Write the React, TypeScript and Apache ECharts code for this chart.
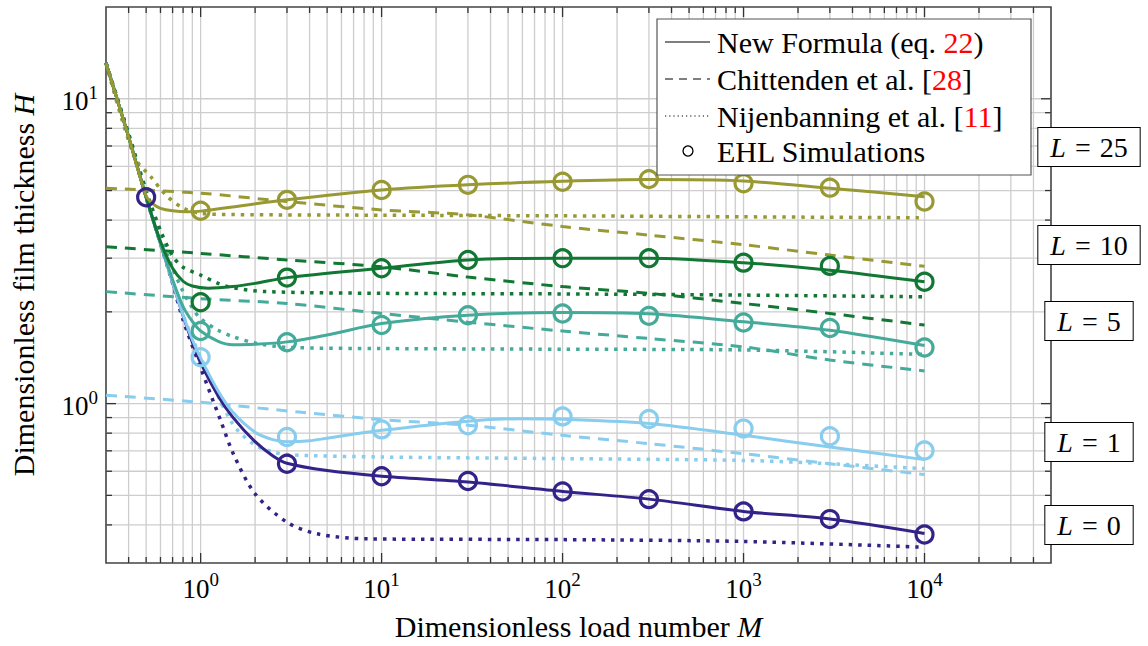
import React, { useEffect, useRef } from 'react';
import * as echarts from 'echarts';

type Pt = [number, number];

const SERIF = 'Liberation Serif';

// axis ranges
const xRange: [number, number] = [0.3, 50000];
const yRange: [number, number] = [0.3, 20];

// L values and their colours
const lValues = [0, 1, 5, 10, 25];
const lColors = ['#332288', '#88CCEE', '#44AA99', '#117733', '#999933'];

// New Formula (eq. 22) — solid
const newL0: Pt[] = [[0.3, 13.1], [0.4, 7.5], [0.5, 4.75], [0.6, 3.35], [0.7, 2.5], [0.8, 1.94], [0.9, 1.59], [1, 1.36], [1.25, 1.06], [1.5, 0.905], [2, 0.75], [2.5, 0.675], [3, 0.637], [5, 0.603], [10, 0.578], [30, 0.553], [100, 0.515], [300, 0.486], [1000, 0.443], [3000, 0.418], [10000, 0.375]];
const newL1: Pt[] = [[0.3, 13.1], [0.4, 7.5], [0.5, 4.75], [0.6, 3.35], [0.7, 2.5], [0.8, 1.95], [0.9, 1.62], [1, 1.41], [1.25, 1.1], [1.5, 0.94], [2, 0.805], [2.5, 0.762], [3, 0.75], [4, 0.755], [5, 0.77], [10, 0.817], [30, 0.876], [60, 0.892], [100, 0.888], [300, 0.86], [1000, 0.787], [3000, 0.72], [10000, 0.655]];
const newL5: Pt[] = [[0.3, 13.1], [0.4, 7.5], [0.5, 4.75], [0.6, 3.35], [0.7, 2.55], [0.8, 2.08], [0.9, 1.86], [1, 1.73], [1.25, 1.6], [1.5, 1.56], [2, 1.565], [3, 1.594], [5, 1.68], [10, 1.83], [30, 1.95], [100, 1.99], [300, 1.97], [1000, 1.855], [3000, 1.74], [10000, 1.55]];
const newL10: Pt[] = [[0.3, 13.1], [0.4, 7.5], [0.5, 4.75], [0.6, 3.4], [0.7, 2.78], [0.8, 2.52], [0.9, 2.43], [1.1, 2.39], [1.5, 2.42], [2, 2.48], [3, 2.59], [10, 2.78], [30, 2.96], [100, 3.0], [300, 3.0], [1000, 2.9], [3000, 2.74], [10000, 2.51]];
const newL25: Pt[] = [[0.3, 13.1], [0.4, 7.5], [0.5, 4.8], [0.55, 4.5], [0.6, 4.37], [0.7, 4.29], [0.85, 4.26], [1, 4.28], [3, 4.66], [10, 5.02], [30, 5.22], [100, 5.36], [300, 5.43], [1000, 5.37], [3000, 5.09], [10000, 4.77]];

// Chittenden et al. [28] — dashed (no L = 0 curve)
const chiL1: Pt[] = [[0.3, 1.065], [1, 1.01], [3.5, 0.938], [10, 0.886], [30, 0.849], [100, 0.787], [300, 0.739], [1000, 0.685], [3000, 0.635], [10000, 0.585]];
const chiL5: Pt[] = [[0.3, 2.33], [1, 2.21], [3, 2.13], [10, 1.976], [30, 1.85], [100, 1.73], [300, 1.635], [1000, 1.535], [3000, 1.39], [10000, 1.28]];
const chiL10: Pt[] = [[0.3, 3.27], [1, 3.11], [3, 2.96], [10, 2.81], [30, 2.6], [100, 2.42], [300, 2.3], [1000, 2.13], [3000, 1.976], [10000, 1.81]];
const chiL25: Pt[] = [[0.3, 5.09], [1, 4.9], [3, 4.6], [10, 4.32], [30, 4.16], [100, 3.81], [300, 3.57], [1000, 3.32], [3000, 3.07], [10000, 2.82]];

// Nijenbanning et al. [11] — dotted
const nijL0: Pt[] = [[0.3, 13.1], [0.4, 7.5], [0.5, 4.75], [0.6, 3.35], [0.7, 2.48], [0.8, 1.88], [1, 1.31], [1.29, 0.88], [1.53, 0.676], [2, 0.506], [3, 0.408], [4.4, 0.374], [8.3, 0.36], [100, 0.358], [1000, 0.353], [10000, 0.338]];
const nijL1: Pt[] = [[0.3, 13.1], [0.4, 7.5], [0.5, 4.75], [0.6, 3.35], [0.7, 2.5], [0.8, 1.95], [1, 1.42], [1.5, 0.86], [2, 0.73], [2.5, 0.695], [3, 0.68], [10, 0.668], [100, 0.66], [1000, 0.651], [3000, 0.635], [10000, 0.612]];
const nijL5: Pt[] = [[0.3, 13.1], [0.4, 7.6], [0.5, 4.9], [0.6, 3.55], [0.7, 2.78], [0.8, 2.33], [0.9, 2.06], [1, 1.9], [1.25, 1.74], [1.5, 1.66], [2, 1.58], [3, 1.53], [10, 1.516], [100, 1.508], [1000, 1.5], [10000, 1.45]];
const nijL10: Pt[] = [[0.3, 13.1], [0.4, 7.7], [0.5, 5.0], [0.6, 3.7], [0.7, 3.05], [0.8, 2.8], [1, 2.64], [1.25, 2.48], [1.5, 2.4], [2.3, 2.33], [10, 2.3], [100, 2.29], [1000, 2.27], [10000, 2.24]];
const nijL25: Pt[] = [[0.3, 13.1], [0.43, 6.45], [0.53, 5.55], [0.65, 4.8], [0.8, 4.38], [1, 4.21], [1.5, 4.17], [10, 4.15], [100, 4.13], [1000, 4.1], [10000, 4.07]];

// EHL simulations — circles
const ehlM = [1, 3, 10, 30, 100, 300, 1000, 3000, 10000];
const ehlL0M = [0.5, 3, 10, 30, 100, 300, 1000, 3000, 10000];
const ehlL0 = [4.75, 0.635, 0.578, 0.557, 0.515, 0.486, 0.443, 0.418, 0.372];
const ehlL1 = [1.42, 0.777, 0.823, 0.849, 0.908, 0.89, 0.828, 0.782, 0.702];
const ehlL5 = [1.73, 1.59, 1.81, 1.95, 1.976, 1.94, 1.846, 1.77, 1.527];
const ehlL10 = [2.15, 2.59, 2.78, 2.96, 3.0, 3.0, 2.9, 2.83, 2.51];
const ehlL25 = [4.29, 4.66, 5.02, 5.22, 5.34, 5.45, 5.28, 5.11, 4.6];

// legend entries
const legendRich = [
  '{t|New Formula (eq. }{r|22}{t|)}',
  '{t|Chittenden et al. [}{r|28}{t|]}',
  '{t|Nijenbanning et al. [}{r|11}{t|]}',
  '{t|EHL Simulations}',
];
const legendDash: (number[] | null)[] = [null, [8, 6], [1.2, 3], null];

// layout (pixels)
const lLabelY = [525, 442, 321, 245, 147];
const legendBox = { x: 657, y: 19, w: 374, h: 156 };
const legendRowY = [42, 79, 116, 151];

const newCurves = [newL0, newL1, newL5, newL10, newL25];
const chiCurves = [null, chiL1, chiL5, chiL10, chiL25];
const nijCurves = [nijL0, nijL1, nijL5, nijL10, nijL25];
const ehlCurves = [
  ehlL0.map((h, i) => [ehlL0M[i], h]),
  ehlL1.map((h, i) => [ehlM[i], h]),
  ehlL5.map((h, i) => [ehlM[i], h]),
  ehlL10.map((h, i) => [ehlM[i], h]),
  ehlL25.map((h, i) => [ehlM[i], h]),
];

function gridValues(lo: number, hi: number): number[] {
  const out: number[] = [];
  for (let e = -1; e <= 5; e++) {
    for (let k = 1; k <= 9; k++) {
      const v = k * Math.pow(10, e);
      if (v > lo * 1.0001 && v < hi * 0.9999) out.push(v);
    }
  }
  return out;
}

const isPow10 = (v: number) => Math.abs(Math.log10(v) - Math.round(Math.log10(v))) < 1e-6;

const powLabel = (v: number) => {
  const e = Math.log10(v);
  const r = Math.round(e);
  if (Math.abs(e - r) > 1e-4) return '';
  return `{b|10}{s|${r}}`;
};

const tickRich = {
  b: { fontFamily: SERIF, fontSize: 27, lineHeight: 32, color: '#000', verticalAlign: 'bottom' },
  s: { fontFamily: SERIF, fontSize: 19, lineHeight: 19, color: '#000', verticalAlign: 'top' },
};

const GRID_COLOR = '#cdcdcd';
const TICK_COLOR = '#333';

function buildOption(): any {
  const series: any[] = [];

  series.push({
    type: 'custom',
    silent: true,
    z: 1,
    clip: false,
    data: gridValues(xRange[0], xRange[1]).map((v) => [v, yRange[0]]),
    encode: { x: 0, y: 1 },
    renderItem: (_p: any, api: any) => {
      const v = api.value(0);
      const b = api.coord([v, yRange[0]]);
      const t = api.coord([v, yRange[1]]);
      const len = isPow10(v) ? 10 : 6;
      return {
        type: 'group',
        children: [
          { type: 'line', shape: { x1: b[0], y1: b[1], x2: t[0], y2: t[1] }, style: { stroke: GRID_COLOR, lineWidth: 1.3 } },
          { type: 'line', shape: { x1: b[0], y1: b[1], x2: b[0], y2: b[1] - len }, style: { stroke: TICK_COLOR, lineWidth: 1.3 } },
          { type: 'line', shape: { x1: t[0], y1: t[1], x2: t[0], y2: t[1] + len }, style: { stroke: TICK_COLOR, lineWidth: 1.3 } },
        ],
      };
    },
  });
  series.push({
    type: 'custom',
    silent: true,
    z: 1,
    clip: false,
    data: gridValues(yRange[0], yRange[1]).map((v) => [xRange[0], v]),
    encode: { x: 0, y: 1 },
    renderItem: (_p: any, api: any) => {
      const v = api.value(1);
      const l = api.coord([xRange[0], v]);
      const r = api.coord([xRange[1], v]);
      const len = isPow10(v) ? 10 : 6;
      return {
        type: 'group',
        children: [
          { type: 'line', shape: { x1: l[0], y1: l[1], x2: r[0], y2: r[1] }, style: { stroke: GRID_COLOR, lineWidth: 1.3 } },
          { type: 'line', shape: { x1: l[0], y1: l[1], x2: l[0] + len, y2: l[1] }, style: { stroke: TICK_COLOR, lineWidth: 1.3 } },
          { type: 'line', shape: { x1: r[0], y1: r[1], x2: r[0] - len, y2: r[1] }, style: { stroke: TICK_COLOR, lineWidth: 1.3 } },
        ],
      };
    },
  });

  const order = [0, 1, 2, 3, 4];
  order.forEach((i) => {
    const c = lColors[i];
    series.push({
      type: 'line', name: `Nijenbanning L=${lValues[i]}`, data: nijCurves[i], showSymbol: false, symbol: 'none',
      smooth: 0.3, z: 2, color: c,
      lineStyle: { color: c, width: 3.5, type: [3.5, 6], cap: 'butt' },
    });
    const ch = chiCurves[i];
    if (ch) {
      series.push({
        type: 'line', name: `Chittenden L=${lValues[i]}`, data: ch, showSymbol: false, symbol: 'none',
        smooth: 0.3, z: 2, color: c,
        lineStyle: { color: c, width: 3, type: [11, 8], cap: 'butt' },
      });
    }
    series.push({
      type: 'line', name: `New Formula L=${lValues[i]}`, data: newCurves[i], showSymbol: false, symbol: 'none',
      smooth: 0.3, z: 3, color: c,
      lineStyle: { color: c, width: 3 },
    });
  });
  order.forEach((i) => {
    series.push({
      type: 'scatter', name: `EHL L=${lValues[i]}`, data: ehlCurves[i], symbol: 'circle', symbolSize: 17, z: i === 0 ? 5 : 4,
      itemStyle: { color: 'rgba(255,255,255,0)', borderColor: lColors[i], borderWidth: 3.2, opacity: 1 },
    });
  });

  const lRich = {
    i: { fontFamily: SERIF, fontSize: 28, fontStyle: 'italic', fill: '#000', lineHeight: 30 },
    e: { fontFamily: SERIF, fontSize: 28, fill: '#000', lineHeight: 30, padding: [0, 9, 0, 9] },
    n: { fontFamily: SERIF, fontSize: 28, fill: '#000', lineHeight: 30 },
  };
  const legRich = {
    t: { fontFamily: SERIF, fontSize: 30, fill: '#000000', lineHeight: 30 },
    r: { fontFamily: SERIF, fontSize: 30, fill: '#ff0000', lineHeight: 30 },
  };

  const graphic: any[] = [
    { type: 'rect', z: 20, shape: { x: legendBox.x, y: legendBox.y, width: legendBox.w, height: legendBox.h }, style: { fill: '#ffffff', stroke: '#555', lineWidth: 1.2 } },
  ];
  legendRich.forEach((txt, k) => {
    const y = legendRowY[k];
    if (k < 3) {
      const st: any = { stroke: '#000', lineWidth: 1.2 };
      if (legendDash[k]) st.lineDash = legendDash[k];
      graphic.push({ type: 'line', z: 21, shape: { x1: 665, y1: y, x2: 710, y2: y }, style: st });
    } else {
      graphic.push({ type: 'circle', z: 21, shape: { cx: 688, cy: y, r: 5 }, style: { fill: '#fff', stroke: '#000', lineWidth: 1.3 } });
    }
    graphic.push({
      type: 'text', z: 21, x: 717, y,
      style: { text: txt, rich: legRich, fontFamily: SERIF, fontSize: 30, fill: '#000', align: 'left', verticalAlign: 'middle' },
    });
  });
  lValues.forEach((v, i) => {
    graphic.push({
      type: 'text',
      x: 1089,
      y: lLabelY[i],
      z: 30,
      style: {
        text: `{i|L}{e|=}{n|${v}}`,
        rich: lRich,
        fontFamily: SERIF,
        fontSize: 28,
        align: 'center',
        verticalAlign: 'middle',
        backgroundColor: '#fff',
        borderColor: '#000',
        borderWidth: 1,
        padding: [4, 12, 4, 12],
      },
    });
  });

  return {
    animation: false,
    backgroundColor: '#fff',
    textStyle: { fontFamily: SERIF },
    grid: { left: 106, top: 7, width: 945, height: 556, show: true, borderColor: '#444', borderWidth: 1.6, backgroundColor: 'transparent', containLabel: false },
    xAxis: {
      type: 'log', logBase: 10, min: xRange[0], max: xRange[1],
      axisLine: { show: false }, axisTick: { show: false }, splitLine: { show: false }, minorTick: { show: false },
      axisLabel: { formatter: powLabel, margin: 7, rich: tickRich, showMinLabel: false, showMaxLabel: false, fontFamily: SERIF },
      name: 'Dimensionless load number {i|M}', nameLocation: 'middle', nameGap: 48,
      nameTextStyle: { fontFamily: SERIF, fontSize: 30, color: '#000', rich: { i: { fontFamily: SERIF, fontSize: 30, fontStyle: 'italic', color: '#000' } } },
    },
    yAxis: {
      type: 'log', logBase: 10, min: yRange[0], max: yRange[1],
      axisLine: { show: false }, axisTick: { show: false }, splitLine: { show: false }, minorTick: { show: false },
      axisLabel: { formatter: powLabel, margin: 8, rich: tickRich, showMinLabel: false, showMaxLabel: false, fontFamily: SERIF },
      name: 'Dimensionless film thickness {i|H}', nameLocation: 'middle', nameGap: 68,
      nameTextStyle: { fontFamily: SERIF, fontSize: 30, color: '#000', rich: { i: { fontFamily: SERIF, fontSize: 30, fontStyle: 'italic', color: '#000' } } },
    },
    graphic,
    series,
  };
}

export default function App() {
  const ref = useRef<HTMLDivElement>(null);
  useEffect(() => {
    const chart = echarts.init(ref.current!, null, { renderer: 'svg' });
    chart.setOption(buildOption());
    return () => chart.dispose();
  }, []);
  return <div ref={ref} style={{ position: 'fixed', left: 0, top: 0, width: 1148, height: 646, background: '#fff' }} />;
}
